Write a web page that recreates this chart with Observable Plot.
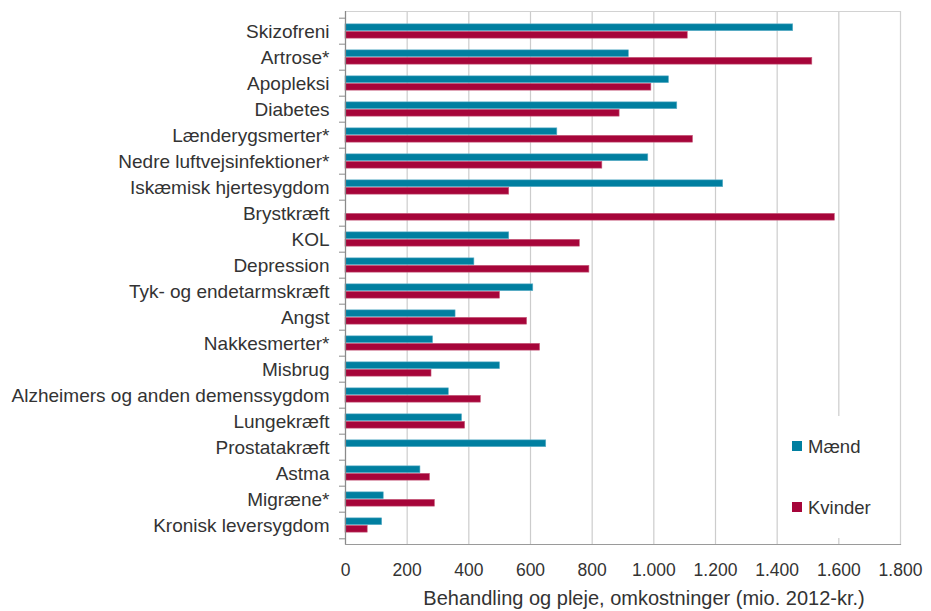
<!DOCTYPE html>
<html><head><meta charset="utf-8">
<script src="https://cdn.jsdelivr.net/npm/d3@7"></script>
<script src="https://cdn.jsdelivr.net/npm/@observablehq/plot@0.6"></script>
<style>
body{margin:0;background:#fff;}
#wrap{position:relative;width:931px;height:611px;font-family:Arial,"Liberation Sans",sans-serif;color:#333;}
#legend{position:absolute;left:783px;top:416px;width:112px;height:122px;background:#fff;}
.li{position:absolute;left:9px;font-size:18.5px;line-height:20px;color:#333;white-space:nowrap;}
.sw{display:inline-block;width:10px;height:10px;margin-right:6px;vertical-align:2px;}
</style></head><body><div id="wrap"></div>
<script>
const categories = ["Skizofreni","Artrose*","Apopleksi","Diabetes","Lænderygsmerter*","Nedre luftvejsinfektioner*","Iskæmisk hjertesygdom","Brystkræft","KOL","Depression","Tyk- og endetarmskræft","Angst","Nakkesmerter*","Misbrug","Alzheimers og anden demenssygdom","Lungekræft","Prostatakræft","Astma","Migræne*","Kronisk leversygdom"];
const maend   = [1452, 919, 1049, 1076, 687, 982, 1225, null, 531, 418, 609, 357, 284, 501, 335, 378, 651, 243, 124, 119];
const kvinder = [1110, 1514, 992, 889, 1127, 833, 531, 1587, 760, 791, 501, 589, 631, 279, 439, 388, null, 274, 290, 72];
const xTicks = [0, 200, 400, 600, 800, 1000, 1200, 1400, 1600, 1800];
const seriesNames = ["Mænd", "Kvinder"];
const seriesColors = ["#007FA0", "#A6053A"];
const xLabel = "Behandling og pleje, omkostninger (mio. 2012-kr.)";

const W = 931, H = 611, mL = 345, mR = 31, mT = 11, mB = 67;
const band = (H - mT - mB) / categories.length;
const rows = categories.map((c, i) => ({cat: c, m: maend[i], k: kvinder[i]}));
const loc = d3.formatLocale({decimal: ",", thousands: ".", grouping: [3], currency: ["", ""]});
const fmt = loc.format(",d");
const font = 'Arial, "Liberation Sans", sans-serif';

const plot = Plot.plot({
  width: W, height: H, marginLeft: mL, marginRight: mR, marginTop: mT, marginBottom: mB,
  style: {fontFamily: font, fontSize: "17px", color: "#333", background: "#fff"},
  x: {domain: [0, 1800]},
  y: {domain: categories, padding: 0},
  marks: [
    Plot.gridX(xTicks, {stroke: "#cccccc", strokeOpacity: 1, strokeWidth: 1.2}),
    Plot.frame({stroke: "#d2d2d2"}),
    Plot.barX(rows.filter(d => d.m != null), {y: "cat", x: "m", fill: seriesColors[0], stroke: "#5fb0c8", strokeWidth: 0.6, insetTop: band * 0.22, insetBottom: band * 0.5}),
    Plot.barX(rows.filter(d => d.k != null), {y: "cat", x: "k", fill: seriesColors[1], stroke: "#c9607f", strokeWidth: 0.6, insetTop: band * 0.5, insetBottom: band * 0.22}),
    Plot.ruleX([0], {stroke: "#8a8a8a", strokeWidth: 1.2}),
    Plot.frame({anchor: "bottom", stroke: "#9a9a9a", strokeWidth: 1.2}),
    Plot.axisX(xTicks, {tickFormat: fmt, tickSize: 0, tickPadding: 19, fontSize: 17.5, label: null}),
    Plot.text([xLabel], {text: d => d, frameAnchor: "bottom", dy: 54, dx: 21, fontSize: 20, fill: "#333", lineAnchor: "middle"}),
    Plot.axisY({tickSize: 0, tickPadding: 16, label: null, fontSize: 19}),
    Plot.axisY({tickSize: 6, tickFormat: () => "", dy: -band / 2, label: null, stroke: "#8a8a8a"}),
    Plot.axisY([categories[categories.length - 1]], {tickSize: 6, tickFormat: () => "", dy: band / 2, label: null, stroke: "#8a8a8a"})
  ]
});
const wrap = document.getElementById("wrap");
wrap.appendChild(plot);
const lg = document.createElement("div");
lg.id = "legend";
seriesNames.forEach((n, i) => {
  const it = document.createElement("div");
  it.className = "li";
  it.style.top = (i === 0 ? 21 : 82) + "px";
  it.innerHTML = `<span class="sw" style="background:${seriesColors[i]}"></span>${n}`;
  lg.appendChild(it);
});
wrap.appendChild(lg);
</script>
</body></html>
